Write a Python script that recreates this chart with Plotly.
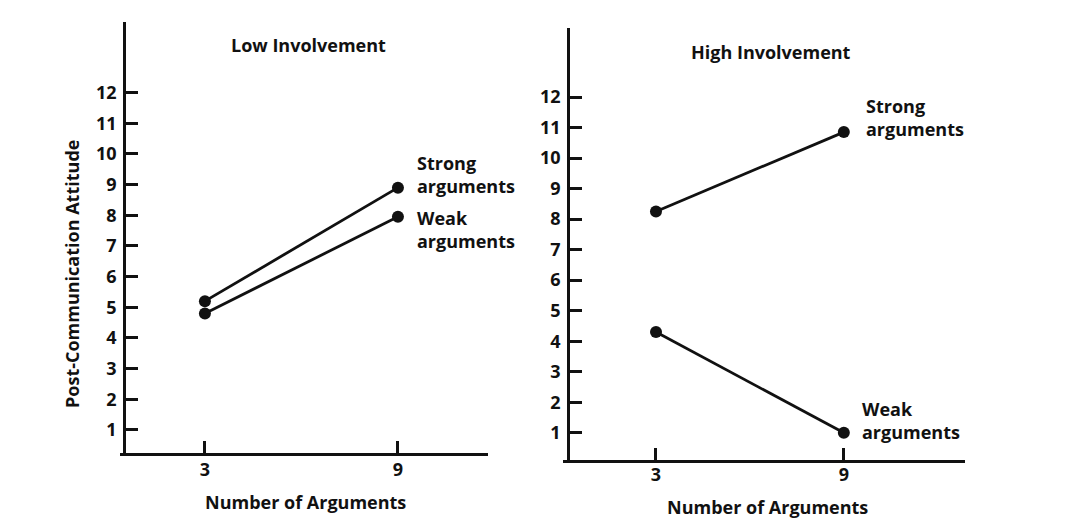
import plotly.graph_objects as go

# ---- data ----
num_arguments = [3, 9]
low_strong = [5.2, 8.9]
low_weak = [4.8, 7.95]
high_strong = [8.25, 10.85]
high_weak = [4.3, 1.0]
y_ticks = list(range(1, 13))
x_ticks = [3, 9]
panel_titles = ["Low Involvement", "High Involvement"]
series_labels = ["Strong arguments", "Weak arguments"]
x_title = "Number of Arguments"
y_title = "Post-Communication Attitude"

W, H = 1067, 528
OFF = 8  # page body margin
FONT = "Open Sans"
BLACK = "#111111"

fig = go.Figure()

def add_line(xs, ys, xa, ya):
    fig.add_trace(go.Scatter(
        x=xs, y=ys, xaxis=xa, yaxis=ya, mode="lines+markers",
        line=dict(color=BLACK, width=2.8),
        marker=dict(color=BLACK, size=12),
        showlegend=False, hoverinfo="x+y"))

add_line(num_arguments, low_strong, "x", "y")
add_line(num_arguments, low_weak, "x", "y")
add_line(num_arguments, high_strong, "x2", "y2")
add_line(num_arguments, high_weak, "x2", "y2")

def px_x(p):
    return (p - OFF) / W

def px_y(p):
    return (H - (p - OFF)) / H

tick_font = dict(family=FONT, size=18, color=BLACK, weight=700)
axis_common = dict(showgrid=False, zeroline=False, showline=True, linecolor=BLACK,
                   linewidth=2.8, ticks="inside", ticklen=12, tickwidth=2.8,
                   tickcolor=BLACK, tickfont=tick_font, fixedrange=True)

fig.update_layout(
    width=W, height=H, margin=dict(l=0, r=0, t=0, b=0),
    paper_bgcolor="white", plot_bgcolor="white",
    xaxis=dict(domain=[px_x(120), px_x(488)], range=[0.36, 11.8], anchor="y",
               tickvals=x_ticks, ticklabelstandoff=-2, **axis_common),
    yaxis=dict(domain=[px_y(453), px_y(22)], range=[0.25, 14.3], anchor="free",
               position=px_x(124), tickvals=y_ticks, ticklabelstandoff=3, **axis_common),
    xaxis2=dict(domain=[px_x(563), px_x(965)], range=[0.03, 12.87], anchor="y2",
                tickvals=x_ticks, ticklabelstandoff=-4, **axis_common),
    yaxis2=dict(domain=[px_y(460), px_y(28)], range=[0.11, 14.26], anchor="free",
                position=px_x(568), tickvals=y_ticks, ticklabelstandoff=3, **axis_common),
)

txt_font = dict(family=FONT, size=18, color=BLACK, weight=700)

def paper_text(text, x, y, angle=0):
    fig.add_annotation(text=text, x=px_x(x), y=px_y(y), xref="paper", yref="paper",
                       showarrow=False, font=txt_font, textangle=angle,
                       xanchor="center", yanchor="middle")

paper_text(panel_titles[0], 308, 45)
paper_text(panel_titles[1], 771, 52)
paper_text(x_title, 305, 502)
paper_text(x_title, 767, 507)
paper_text(y_title, 72, 274, angle=-90)

def series_label(label, xv, yv, xa, ya, dx, dy):
    word, rest = label.split(" ", 1)
    for i, t in enumerate([word, rest]):
        fig.add_annotation(text=t, x=xv, y=yv, xref=xa, yref=ya, showarrow=False,
                           font=txt_font, xanchor="left", yanchor="middle",
                           xshift=dx, yshift=dy - 23 * i)

series_label(series_labels[0], num_arguments[1], low_strong[1], "x", "y", 17, 25)
series_label(series_labels[1], num_arguments[1], low_weak[1], "x", "y", 17, -1)
series_label(series_labels[0], num_arguments[1], high_strong[1], "x2", "y2", 20, 26)
series_label(series_labels[1], num_arguments[1], high_weak[1], "x2", "y2", 16, 24)

fig.write_html("out.html")
